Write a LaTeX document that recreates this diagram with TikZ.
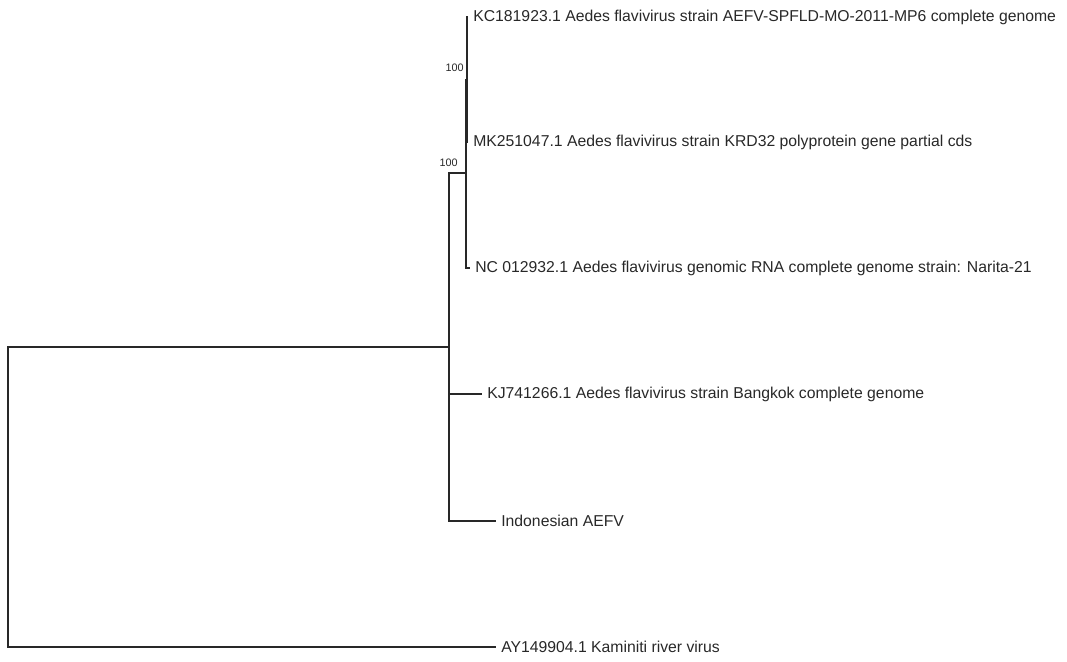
\documentclass[tikz,border=0pt]{standalone}
\usepackage{fontspec}
\setmainfont{Liberation Sans}
\usetikzlibrary{positioning}
\definecolor{treegray}{RGB}{40,40,40}

\begin{document}
\begin{tikzpicture}[x=0.025cm,y=-0.025cm]
  \tikzstyle{leaf}=[anchor=west,inner xsep=3.6pt,inner ysep=0pt,text=treegray,
    font=\fontsize{11.2}{13}\selectfont]
  \tikzstyle{boot}=[anchor=south east,inner sep=0pt,text=treegray,
    font=\fontsize{7.7}{9}\selectfont]
  \tikzstyle{br}=[treegray,line width=0.9pt]
  \useasboundingbox (0,0) rectangle (1067,662);

  % -- internal nodes --
  \coordinate (root) at (8,497);
  \coordinate (a) at (449,347);
  \coordinate (b) at (466,173);
  \coordinate (c) at (467,80);

  % -- leaves --
  \node[leaf] (kc) at (468,17) {KC181923.1 Aedes flavivirus strain AEFV-SPFLD-MO-2011-MP6 complete genome};
  \node[leaf] (mk) at (468,142) {MK251047.1 Aedes flavivirus strain KRD32 polyprotein gene partial cds};
  \node[leaf] (nc) at (470,268) {NC 012932.1 Aedes flavivirus genomic RNA complete genome strain: Narita-21};
  \node[leaf] (kj) at (482,394) {KJ741266.1 Aedes flavivirus strain Bangkok complete genome};
  \node[leaf] (indo) at (496,521) {Indonesian AEFV};
  \node[leaf] (ay) at (496,647) {AY149904.1 Kaminiti river virus};

  % -- bootstrap values --
  \node[boot] (bootc) at (464,72) {100};
  \node[boot] (bootb) at (458,167) {100};

  % -- branches --
  \draw[br] (kc.west) -| (c) |- (mk.west);
  \draw[br] (c) -| (b) |- (nc.west);
  \draw[br] (b) -| (a) |- (indo.west);
  \draw[br] (a) |- (kj.west);
  \draw[br] (a) -| (root) |- (ay.west);
\end{tikzpicture}
\end{document}
